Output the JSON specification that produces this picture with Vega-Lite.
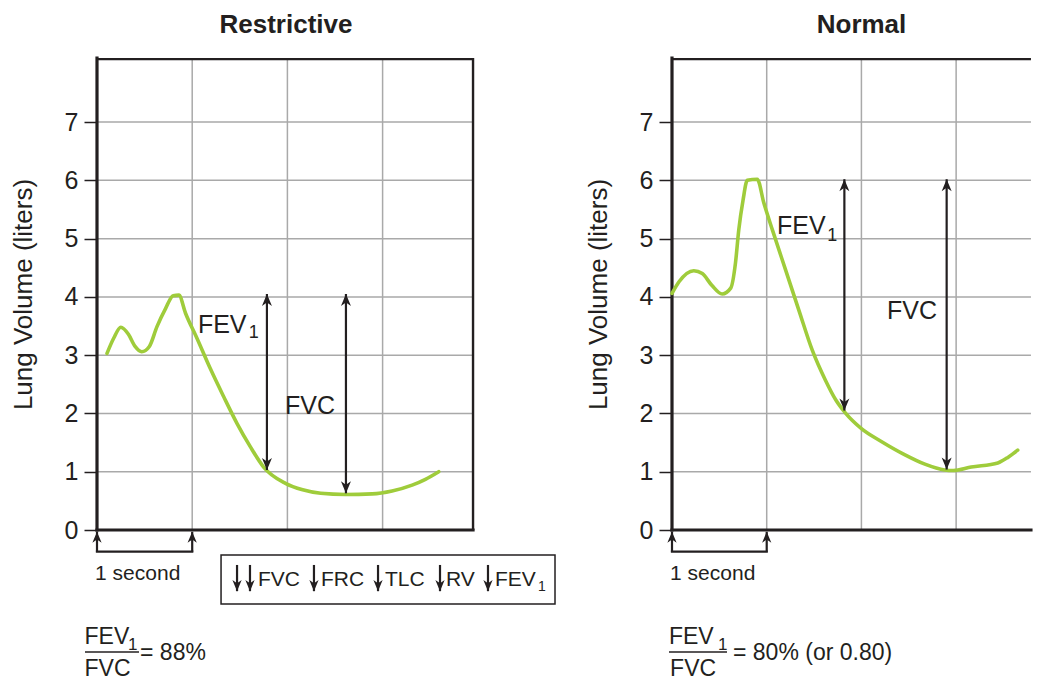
{
  "$schema": "https://vega.github.io/schema/vega-lite/v6.json",
  "padding": {"left": 10, "top": 11, "right": 0, "bottom": 0},
  "spacing": 18,
  "config": {"view": {"stroke": null}, "font": "Liberation Sans",
    "axisY": {"domain": false, "grid": false, "tickSize": 13, "tickWidth": 1.5, "tickColor": "#231f20",
              "labelFont": "Liberation Sans", "labelFontSize": 25, "labelColor": "#231f20", "labelPadding": 6,
              "titleFont": "Liberation Sans", "titleFontSize": 26, "titleFontWeight": "normal", "titleColor": "#231f20", "titlePadding": 28}},
  "datasets": {
    "curve": [
      {"p": "R", "time": 0.105, "volume": 3.03}, {"p": "R", "time": 0.175, "volume": 3.29}, {"p": "R", "time": 0.25, "volume": 3.48},
      {"p": "R", "time": 0.33, "volume": 3.36}, {"p": "R", "time": 0.40, "volume": 3.15}, {"p": "R", "time": 0.47, "volume": 3.06},
      {"p": "R", "time": 0.55, "volume": 3.15}, {"p": "R", "time": 0.63, "volume": 3.49}, {"p": "R", "time": 0.72, "volume": 3.80},
      {"p": "R", "time": 0.80, "volume": 4.02}, {"p": "R", "time": 0.86, "volume": 4.03}, {"p": "R", "time": 0.93, "volume": 3.72},
      {"p": "R", "time": 1.05, "volume": 3.29}, {"p": "R", "time": 1.19, "volume": 2.77}, {"p": "R", "time": 1.33, "volume": 2.29},
      {"p": "R", "time": 1.47, "volume": 1.83}, {"p": "R", "time": 1.61, "volume": 1.43}, {"p": "R", "time": 1.75, "volume": 1.08},
      {"p": "R", "time": 1.98, "volume": 0.80}, {"p": "R", "time": 2.16, "volume": 0.69}, {"p": "R", "time": 2.35, "volume": 0.63},
      {"p": "R", "time": 2.61, "volume": 0.61}, {"p": "R", "time": 2.89, "volume": 0.62}, {"p": "R", "time": 3.10, "volume": 0.67},
      {"p": "R", "time": 3.31, "volume": 0.77}, {"p": "R", "time": 3.45, "volume": 0.87}, {"p": "R", "time": 3.59, "volume": 1.0},
      {"p": "N", "time": 0.0, "volume": 4.06}, {"p": "N", "time": 0.074, "volume": 4.26}, {"p": "N", "time": 0.23, "volume": 4.45},
      {"p": "N", "time": 0.32, "volume": 4.40}, {"p": "N", "time": 0.42, "volume": 4.20}, {"p": "N", "time": 0.53, "volume": 4.05},
      {"p": "N", "time": 0.62, "volume": 4.15}, {"p": "N", "time": 0.67, "volume": 4.58}, {"p": "N", "time": 0.705, "volume": 5.15},
      {"p": "N", "time": 0.75, "volume": 5.66}, {"p": "N", "time": 0.795, "volume": 6.0}, {"p": "N", "time": 0.90, "volume": 6.02},
      {"p": "N", "time": 0.97, "volume": 5.61}, {"p": "N", "time": 1.06, "volume": 5.15}, {"p": "N", "time": 1.20, "volume": 4.46},
      {"p": "N", "time": 1.34, "volume": 3.77}, {"p": "N", "time": 1.48, "volume": 3.09}, {"p": "N", "time": 1.62, "volume": 2.57},
      {"p": "N", "time": 1.73, "volume": 2.23}, {"p": "N", "time": 1.83, "volume": 2.01}, {"p": "N", "time": 2.0, "volume": 1.74},
      {"p": "N", "time": 2.21, "volume": 1.52}, {"p": "N", "time": 2.46, "volume": 1.29}, {"p": "N", "time": 2.67, "volume": 1.13},
      {"p": "N", "time": 2.88, "volume": 1.03}, {"p": "N", "time": 2.97, "volume": 1.02}, {"p": "N", "time": 3.16, "volume": 1.08},
      {"p": "N", "time": 3.44, "volume": 1.15}, {"p": "N", "time": 3.55, "volume": 1.25}, {"p": "N", "time": 3.65, "volume": 1.37}
    ],
    "gridh": [
      {"p": "R", "x": 0, "x2": 3.95, "y": 1}, {"p": "R", "x": 0, "x2": 3.95, "y": 2}, {"p": "R", "x": 0, "x2": 3.95, "y": 3},
      {"p": "R", "x": 0, "x2": 3.95, "y": 4}, {"p": "R", "x": 0, "x2": 3.95, "y": 5}, {"p": "R", "x": 0, "x2": 3.95, "y": 6},
      {"p": "R", "x": 0, "x2": 3.95, "y": 7},
      {"p": "N", "x": 0, "x2": 3.79, "y": 1}, {"p": "N", "x": 0, "x2": 3.79, "y": 2}, {"p": "N", "x": 0, "x2": 3.79, "y": 3},
      {"p": "N", "x": 0, "x2": 3.79, "y": 4}, {"p": "N", "x": 0, "x2": 3.79, "y": 5}, {"p": "N", "x": 0, "x2": 3.79, "y": 6},
      {"p": "N", "x": 0, "x2": 3.79, "y": 7}
    ],
    "gridv": [
      {"p": "R", "x": 1, "y": 0, "y2": 8.1}, {"p": "R", "x": 2, "y": 0, "y2": 8.1}, {"p": "R", "x": 3, "y": 0, "y2": 8.1},
      {"p": "N", "x": 1, "y": 0, "y2": 8.1}, {"p": "N", "x": 2, "y": 0, "y2": 8.1}, {"p": "N", "x": 3, "y": 0, "y2": 8.1}
    ],
    "frame_thick": [
      {"p": "R", "x": 0, "x2": 0, "y": 0, "y2": 8.1}, {"p": "R", "x": 0, "x2": 3.95, "y": 0, "y2": 0},
      {"p": "N", "x": 0, "x2": 0, "y": 0, "y2": 8.1}, {"p": "N", "x": 0, "x2": 3.79, "y": 0, "y2": 0}
    ],
    "frame_thin": [
      {"p": "R", "x": 0, "x2": 3.95, "y": 8.08, "y2": 8.08}, {"p": "R", "x": 3.95, "x2": 3.95, "y": 0, "y2": 8.1},
      {"p": "N", "x": 0, "x2": 3.79, "y": 8.08, "y2": 8.08}
    ],
    "segs": [
      {"p": "R", "x": 1.785, "x2": 1.785, "y": 4.05, "y2": 1.03},
      {"p": "R", "x": 2.615, "x2": 2.615, "y": 4.05, "y2": 0.63},
      {"p": "N", "x": 1.82, "x2": 1.82, "y": 6.02, "y2": 2.05},
      {"p": "N", "x": 2.9, "x2": 2.9, "y": 6.02, "y2": 1.04},
      {"p": "R", "x": 0, "x2": 0, "y": -0.03, "y2": -0.372},
      {"p": "R", "x": 1, "x2": 1, "y": -0.03, "y2": -0.372},
      {"p": "R", "x": -0.012, "x2": 1.012, "y": -0.372, "y2": -0.372},
      {"p": "N", "x": 0, "x2": 0, "y": -0.03, "y2": -0.372},
      {"p": "N", "x": 1, "x2": 1, "y": -0.03, "y2": -0.372},
      {"p": "N", "x": -0.012, "x2": 1.012, "y": -0.372, "y2": -0.372},
      {"p": "R", "x": 1.471, "x2": 1.471, "y": -0.6, "y2": -1.05},
      {"p": "R", "x": 1.607, "x2": 1.607, "y": -0.6, "y2": -1.05},
      {"p": "R", "x": 2.279, "x2": 2.279, "y": -0.6, "y2": -1.05},
      {"p": "R", "x": 2.952, "x2": 2.952, "y": -0.6, "y2": -1.05},
      {"p": "R", "x": 3.603, "x2": 3.603, "y": -0.6, "y2": -1.05},
      {"p": "R", "x": 4.107, "x2": 4.107, "y": -0.6, "y2": -1.05}
    ],
    "fracline": [
      {"p": "R", "x": -0.126, "x2": 0.441, "y": -2.093, "y2": -2.093},
      {"p": "N", "x": -0.032, "x2": 0.581, "y": -2.093, "y2": -2.093}
    ],
    "box": [{"p": "R", "x": 1.303, "x2": 4.811, "y": -0.429, "y2": -1.27}],
    "heads_big": [
      {"p": "R", "x": 1.785, "y": 4.05, "dir": "up"}, {"p": "R", "x": 1.785, "y": 1.03, "dir": "down"},
      {"p": "R", "x": 2.615, "y": 4.05, "dir": "up"}, {"p": "R", "x": 2.615, "y": 0.63, "dir": "down"},
      {"p": "N", "x": 1.82, "y": 6.02, "dir": "up"}, {"p": "N", "x": 1.82, "y": 2.05, "dir": "down"},
      {"p": "N", "x": 2.9, "y": 6.02, "dir": "up"}, {"p": "N", "x": 2.9, "y": 1.04, "dir": "down"}
    ],
    "heads_small": [
      {"p": "R", "x": 0, "y": -0.03, "dir": "up"}, {"p": "R", "x": 1, "y": -0.03, "dir": "up"},
      {"p": "N", "x": 0, "y": -0.03, "dir": "up"}, {"p": "N", "x": 1, "y": -0.03, "dir": "up"},
      {"p": "R", "x": 1.471, "y": -1.05, "dir": "down"}, {"p": "R", "x": 1.607, "y": -1.05, "dir": "down"},
      {"p": "R", "x": 2.279, "y": -1.05, "dir": "down"}, {"p": "R", "x": 2.952, "y": -1.05, "dir": "down"},
      {"p": "R", "x": 3.603, "y": -1.05, "dir": "down"}, {"p": "R", "x": 4.107, "y": -1.05, "dir": "down"}
    ],
    "txt_big": [
      {"p": "R", "x": 1.06, "y": 3.38, "label": "FEV"}, {"p": "R", "x": 1.975, "y": 1.99, "label": "FVC"},
      {"p": "N", "x": 1.109, "y": 5.08, "label": "FEV"}, {"p": "N", "x": 2.27, "y": 3.62, "label": "FVC"}
    ],
    "sub_big": [
      {"p": "R", "x": 1.595, "y": 3.29, "label": "1"}, {"p": "N", "x": 1.64, "y": 4.96, "label": "1"}
    ],
    "txt_mid": [
      {"p": "R", "x": -0.02, "y": -0.858, "label": "1 second"}, {"p": "N", "x": -0.02, "y": -0.858, "label": "1 second"},
      {"p": "R", "x": 1.691, "y": -0.961, "label": "FVC"}, {"p": "R", "x": 2.353, "y": -0.961, "label": "FRC"},
      {"p": "R", "x": 3.025, "y": -0.961, "label": "TLC"}, {"p": "R", "x": 3.666, "y": -0.961, "label": "RV"},
      {"p": "R", "x": 4.181, "y": -0.961, "label": "FEV"}
    ],
    "sub_small": [{"p": "R", "x": 4.632, "y": -1.04, "label": "1"}],
    "txt_frac": [
      {"p": "R", "x": -0.131, "y": -1.956, "label": "FEV"}, {"p": "R", "x": -0.131, "y": -2.505, "label": "FVC"},
      {"p": "R", "x": 0.452, "y": -2.231, "label": "= 88%"},
      {"p": "N", "x": -0.032, "y": -1.956, "label": "FEV"}, {"p": "N", "x": -0.02, "y": -2.505, "label": "FVC"},
      {"p": "N", "x": 0.644, "y": -2.231, "label": "= 80% (or 0.80)"}
    ],
    "sub_frac": [
      {"p": "R", "x": 0.326, "y": -2.06, "label": "1"}, {"p": "N", "x": 0.485, "y": -2.06, "label": "1"}
    ]
  },
  "hconcat": [
    {
      "width": 470,
      "height": 472,
      "title": {"text": "Restrictive", "font": "Liberation Sans", "fontSize": 26, "fontWeight": "bold", "color": "#231f20", "frame": "group", "anchor": "middle", "dx": -46, "offset": -3, "baseline": "alphabetic"},
      "layer": [
        {"data": {"name": "gridv"}, "transform": [{"filter": "datum.p == 'R'"}],
         "mark": {"type": "rule", "color": "#a9a9a9", "strokeWidth": 1.5},
         "encoding": {
           "x": {"field": "x", "type": "quantitative", "scale": {"domain": [0, 4.937], "nice": false, "zero": false}, "axis": null},
           "y": {"field": "y", "type": "quantitative", "scale": {"domain": [0, 8.1], "nice": false, "zero": false}, "title": "Lung Volume (liters)", "axis": {"values": [0, 1, 2, 3, 4, 5, 6, 7], "format": "d"}},
           "y2": {"field": "y2"}}},
        {"data": {"name": "gridh"}, "transform": [{"filter": "datum.p == 'R'"}],
         "mark": {"type": "rule", "color": "#a9a9a9", "strokeWidth": 1.5},
         "encoding": {"x": {"field": "x", "type": "quantitative", "axis": null}, "x2": {"field": "x2"}, "y": {"field": "y", "type": "quantitative", "title": "Lung Volume (liters)"}}},
        {"data": {"name": "frame_thin"}, "transform": [{"filter": "datum.p == 'R'"}],
         "mark": {"type": "rule", "color": "#231f20", "strokeWidth": 2.4},
         "encoding": {"x": {"field": "x", "type": "quantitative", "axis": null}, "x2": {"field": "x2"}, "y": {"field": "y", "type": "quantitative", "title": "Lung Volume (liters)"}, "y2": {"field": "y2"}}},
        {"data": {"name": "frame_thick"}, "transform": [{"filter": "datum.p == 'R'"}],
         "mark": {"type": "rule", "color": "#231f20", "strokeWidth": 3.2, "strokeCap": "square"},
         "encoding": {"x": {"field": "x", "type": "quantitative", "axis": null}, "x2": {"field": "x2"}, "y": {"field": "y", "type": "quantitative", "title": "Lung Volume (liters)"}, "y2": {"field": "y2"}}},
        {"data": {"name": "curve"}, "transform": [{"filter": "datum.p == 'R'"}],
         "mark": {"type": "line", "color": "#9fcc3b", "strokeWidth": 3.6, "interpolate": "monotone", "strokeCap": "round"},
         "encoding": {"x": {"field": "time", "type": "quantitative", "axis": null}, "y": {"field": "volume", "type": "quantitative", "title": "Lung Volume (liters)"}}},
        {"data": {"name": "segs"}, "transform": [{"filter": "datum.p == 'R'"}],
         "mark": {"type": "rule", "color": "#231f20", "strokeWidth": 2.2},
         "encoding": {"x": {"field": "x", "type": "quantitative", "axis": null}, "x2": {"field": "x2"}, "y": {"field": "y", "type": "quantitative", "title": "Lung Volume (liters)"}, "y2": {"field": "y2"}}},
        {"data": {"name": "fracline"}, "transform": [{"filter": "datum.p == 'R'"}],
         "mark": {"type": "rule", "color": "#231f20", "strokeWidth": 1.5},
         "encoding": {"x": {"field": "x", "type": "quantitative", "axis": null}, "x2": {"field": "x2"}, "y": {"field": "y", "type": "quantitative", "title": "Lung Volume (liters)"}, "y2": {"field": "y2"}}},
        {"data": {"name": "box"}, "transform": [{"filter": "datum.p == 'R'"}],
         "mark": {"type": "rect", "filled": false, "color": "#231f20", "strokeWidth": 1.5},
         "encoding": {"x": {"field": "x", "type": "quantitative", "axis": null}, "x2": {"field": "x2"}, "y": {"field": "y", "type": "quantitative", "title": "Lung Volume (liters)"}, "y2": {"field": "y2"}}},
        {"data": {"name": "heads_big"}, "transform": [{"filter": "datum.p == 'R'"}],
         "mark": {"type": "point", "filled": true, "color": "#231f20", "size": 400, "opacity": 1, "strokeWidth": 0},
         "encoding": {"x": {"field": "x", "type": "quantitative", "axis": null}, "y": {"field": "y", "type": "quantitative", "title": "Lung Volume (liters)"},
                      "shape": {"field": "dir", "type": "nominal", "scale": {"domain": ["up", "down"], "range": ["M0,0L0.5,1.2L0,0.85L-0.5,1.2Z", "M0,0L0.5,-1.2L0,-0.85L-0.5,-1.2Z"]}, "legend": null}}},
        {"data": {"name": "heads_small"}, "transform": [{"filter": "datum.p == 'R'"}],
         "mark": {"type": "point", "filled": true, "color": "#231f20", "size": 340, "opacity": 1, "strokeWidth": 0},
         "encoding": {"x": {"field": "x", "type": "quantitative", "axis": null}, "y": {"field": "y", "type": "quantitative", "title": "Lung Volume (liters)"},
                      "shape": {"field": "dir", "type": "nominal", "scale": {"domain": ["up", "down"], "range": ["M0,0L0.5,1.2L0,0.85L-0.5,1.2Z", "M0,0L0.5,-1.2L0,-0.85L-0.5,-1.2Z"]}, "legend": null}}},
        {"data": {"name": "txt_big"}, "transform": [{"filter": "datum.p == 'R'"}],
         "mark": {"type": "text", "font": "Liberation Sans", "fontSize": 25, "color": "#231f20", "align": "left", "baseline": "alphabetic"},
         "encoding": {"x": {"field": "x", "type": "quantitative", "axis": null}, "y": {"field": "y", "type": "quantitative", "title": "Lung Volume (liters)"}, "text": {"field": "label"}}},
        {"data": {"name": "sub_big"}, "transform": [{"filter": "datum.p == 'R'"}],
         "mark": {"type": "text", "font": "Liberation Sans", "fontSize": 18, "color": "#231f20", "align": "left", "baseline": "alphabetic"},
         "encoding": {"x": {"field": "x", "type": "quantitative", "axis": null}, "y": {"field": "y", "type": "quantitative", "title": "Lung Volume (liters)"}, "text": {"field": "label"}}},
        {"data": {"name": "txt_mid"}, "transform": [{"filter": "datum.p == 'R'"}],
         "mark": {"type": "text", "font": "Liberation Sans", "fontSize": 21, "color": "#231f20", "align": "left", "baseline": "alphabetic"},
         "encoding": {"x": {"field": "x", "type": "quantitative", "axis": null}, "y": {"field": "y", "type": "quantitative", "title": "Lung Volume (liters)"}, "text": {"field": "label"}}},
        {"data": {"name": "sub_small"}, "transform": [{"filter": "datum.p == 'R'"}],
         "mark": {"type": "text", "font": "Liberation Sans", "fontSize": 14, "color": "#231f20", "align": "left", "baseline": "alphabetic"},
         "encoding": {"x": {"field": "x", "type": "quantitative", "axis": null}, "y": {"field": "y", "type": "quantitative", "title": "Lung Volume (liters)"}, "text": {"field": "label"}}},
        {"data": {"name": "txt_frac"}, "transform": [{"filter": "datum.p == 'R'"}],
         "mark": {"type": "text", "font": "Liberation Sans", "fontSize": 23, "color": "#231f20", "align": "left", "baseline": "alphabetic"},
         "encoding": {"x": {"field": "x", "type": "quantitative", "axis": null}, "y": {"field": "y", "type": "quantitative", "title": "Lung Volume (liters)"}, "text": {"field": "label"}}},
        {"data": {"name": "sub_frac"}, "transform": [{"filter": "datum.p == 'R'"}],
         "mark": {"type": "text", "font": "Liberation Sans", "fontSize": 17, "color": "#231f20", "align": "left", "baseline": "alphabetic"},
         "encoding": {"x": {"field": "x", "type": "quantitative", "axis": null}, "y": {"field": "y", "type": "quantitative", "title": "Lung Volume (liters)"}, "text": {"field": "label"}}}
      ]
    },
    {
      "width": 367,
      "height": 472,
      "title": {"text": "Normal", "font": "Liberation Sans", "fontSize": 26, "fontWeight": "bold", "color": "#231f20", "frame": "group", "anchor": "middle", "dx": 6, "offset": -3, "baseline": "alphabetic"},
      "layer": [
        {"data": {"name": "gridv"}, "transform": [{"filter": "datum.p == 'N'"}],
         "mark": {"type": "rule", "color": "#a9a9a9", "strokeWidth": 1.5},
         "encoding": {
           "x": {"field": "x", "type": "quantitative", "scale": {"domain": [0, 3.875], "nice": false, "zero": false}, "axis": null},
           "y": {"field": "y", "type": "quantitative", "scale": {"domain": [0, 8.1], "nice": false, "zero": false}, "title": "Lung Volume (liters)", "axis": {"values": [0, 1, 2, 3, 4, 5, 6, 7], "format": "d"}},
           "y2": {"field": "y2"}}},
        {"data": {"name": "gridh"}, "transform": [{"filter": "datum.p == 'N'"}],
         "mark": {"type": "rule", "color": "#a9a9a9", "strokeWidth": 1.5},
         "encoding": {"x": {"field": "x", "type": "quantitative", "axis": null}, "x2": {"field": "x2"}, "y": {"field": "y", "type": "quantitative", "title": "Lung Volume (liters)"}}},
        {"data": {"name": "frame_thin"}, "transform": [{"filter": "datum.p == 'N'"}],
         "mark": {"type": "rule", "color": "#231f20", "strokeWidth": 2.4},
         "encoding": {"x": {"field": "x", "type": "quantitative", "axis": null}, "x2": {"field": "x2"}, "y": {"field": "y", "type": "quantitative", "title": "Lung Volume (liters)"}, "y2": {"field": "y2"}}},
        {"data": {"name": "frame_thick"}, "transform": [{"filter": "datum.p == 'N'"}],
         "mark": {"type": "rule", "color": "#231f20", "strokeWidth": 3.2, "strokeCap": "square"},
         "encoding": {"x": {"field": "x", "type": "quantitative", "axis": null}, "x2": {"field": "x2"}, "y": {"field": "y", "type": "quantitative", "title": "Lung Volume (liters)"}, "y2": {"field": "y2"}}},
        {"data": {"name": "curve"}, "transform": [{"filter": "datum.p == 'N'"}],
         "mark": {"type": "line", "color": "#9fcc3b", "strokeWidth": 3.6, "interpolate": "monotone", "strokeCap": "round"},
         "encoding": {"x": {"field": "time", "type": "quantitative", "axis": null}, "y": {"field": "volume", "type": "quantitative", "title": "Lung Volume (liters)"}}},
        {"data": {"name": "segs"}, "transform": [{"filter": "datum.p == 'N'"}],
         "mark": {"type": "rule", "color": "#231f20", "strokeWidth": 2.2},
         "encoding": {"x": {"field": "x", "type": "quantitative", "axis": null}, "x2": {"field": "x2"}, "y": {"field": "y", "type": "quantitative", "title": "Lung Volume (liters)"}, "y2": {"field": "y2"}}},
        {"data": {"name": "fracline"}, "transform": [{"filter": "datum.p == 'N'"}],
         "mark": {"type": "rule", "color": "#231f20", "strokeWidth": 1.5},
         "encoding": {"x": {"field": "x", "type": "quantitative", "axis": null}, "x2": {"field": "x2"}, "y": {"field": "y", "type": "quantitative", "title": "Lung Volume (liters)"}, "y2": {"field": "y2"}}},
        {"data": {"name": "heads_big"}, "transform": [{"filter": "datum.p == 'N'"}],
         "mark": {"type": "point", "filled": true, "color": "#231f20", "size": 400, "opacity": 1, "strokeWidth": 0},
         "encoding": {"x": {"field": "x", "type": "quantitative", "axis": null}, "y": {"field": "y", "type": "quantitative", "title": "Lung Volume (liters)"},
                      "shape": {"field": "dir", "type": "nominal", "scale": {"domain": ["up", "down"], "range": ["M0,0L0.5,1.2L0,0.85L-0.5,1.2Z", "M0,0L0.5,-1.2L0,-0.85L-0.5,-1.2Z"]}, "legend": null}}},
        {"data": {"name": "heads_small"}, "transform": [{"filter": "datum.p == 'N'"}],
         "mark": {"type": "point", "filled": true, "color": "#231f20", "size": 340, "opacity": 1, "strokeWidth": 0},
         "encoding": {"x": {"field": "x", "type": "quantitative", "axis": null}, "y": {"field": "y", "type": "quantitative", "title": "Lung Volume (liters)"},
                      "shape": {"field": "dir", "type": "nominal", "scale": {"domain": ["up", "down"], "range": ["M0,0L0.5,1.2L0,0.85L-0.5,1.2Z", "M0,0L0.5,-1.2L0,-0.85L-0.5,-1.2Z"]}, "legend": null}}},
        {"data": {"name": "txt_big"}, "transform": [{"filter": "datum.p == 'N'"}],
         "mark": {"type": "text", "font": "Liberation Sans", "fontSize": 25, "color": "#231f20", "align": "left", "baseline": "alphabetic"},
         "encoding": {"x": {"field": "x", "type": "quantitative", "axis": null}, "y": {"field": "y", "type": "quantitative", "title": "Lung Volume (liters)"}, "text": {"field": "label"}}},
        {"data": {"name": "sub_big"}, "transform": [{"filter": "datum.p == 'N'"}],
         "mark": {"type": "text", "font": "Liberation Sans", "fontSize": 18, "color": "#231f20", "align": "left", "baseline": "alphabetic"},
         "encoding": {"x": {"field": "x", "type": "quantitative", "axis": null}, "y": {"field": "y", "type": "quantitative", "title": "Lung Volume (liters)"}, "text": {"field": "label"}}},
        {"data": {"name": "txt_mid"}, "transform": [{"filter": "datum.p == 'N'"}],
         "mark": {"type": "text", "font": "Liberation Sans", "fontSize": 21, "color": "#231f20", "align": "left", "baseline": "alphabetic"},
         "encoding": {"x": {"field": "x", "type": "quantitative", "axis": null}, "y": {"field": "y", "type": "quantitative", "title": "Lung Volume (liters)"}, "text": {"field": "label"}}},
        {"data": {"name": "txt_frac"}, "transform": [{"filter": "datum.p == 'N'"}],
         "mark": {"type": "text", "font": "Liberation Sans", "fontSize": 23, "color": "#231f20", "align": "left", "baseline": "alphabetic"},
         "encoding": {"x": {"field": "x", "type": "quantitative", "axis": null}, "y": {"field": "y", "type": "quantitative", "title": "Lung Volume (liters)"}, "text": {"field": "label"}}},
        {"data": {"name": "sub_frac"}, "transform": [{"filter": "datum.p == 'N'"}],
         "mark": {"type": "text", "font": "Liberation Sans", "fontSize": 17, "color": "#231f20", "align": "left", "baseline": "alphabetic"},
         "encoding": {"x": {"field": "x", "type": "quantitative", "axis": null}, "y": {"field": "y", "type": "quantitative", "title": "Lung Volume (liters)"}, "text": {"field": "label"}}}
      ]
    }
  ]
}
